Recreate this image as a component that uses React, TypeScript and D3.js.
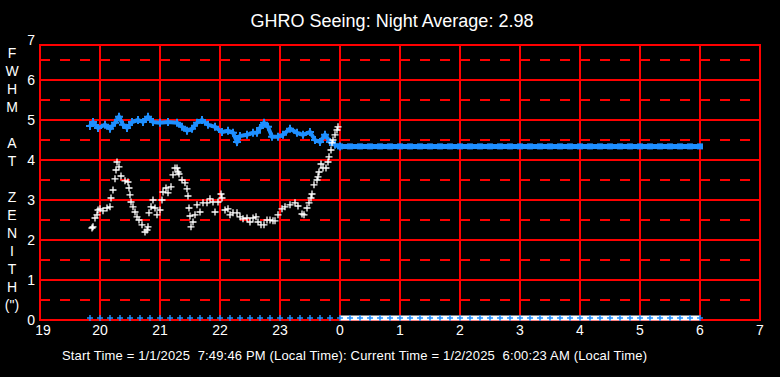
import React from "react";
import * as d3 from "d3";

// minutes after 19:00 local time
const whiteMinutes = [52,53,55,57,58,60,63,67,70,71,73,75,76,77,79,81,85,88,89,90,91,93,95,97,99,102,105,107,108,109,111,113,115,117,120,122,123,126,128,131,133,135,137,138,139,142,145,147,148,149,150,151,153,155,157,160,163,167,170,173,175,178,181,182,185,188,190,193,197,200,203,207,210,213,216,218,221,224,227,230,233,235,238,242,245,250,255,258,262,264,267,269,271,272,274,277,278,279,281,283,286,288,289,291,292,293,295,297,298];
const whiteValues = [2.30,2.33,2.55,2.63,2.75,2.78,2.73,2.80,2.83,3.05,3.25,3.53,3.75,3.95,3.83,3.60,3.48,3.45,3.30,3.13,2.95,2.83,2.70,2.58,2.50,2.38,2.20,2.25,2.33,2.68,2.83,3.00,2.80,2.63,2.75,3.00,3.20,3.30,3.18,3.33,3.63,3.80,3.80,3.70,3.65,3.50,3.43,3.28,3.10,2.80,2.60,2.33,2.45,2.63,2.88,2.70,2.93,2.93,3.03,2.95,2.70,2.95,3.15,3.05,2.75,2.78,2.63,2.68,2.68,2.58,2.53,2.55,2.45,2.55,2.58,2.45,2.38,2.38,2.50,2.50,2.48,2.48,2.63,2.78,2.83,2.88,2.93,2.85,2.65,2.63,2.80,2.93,3.05,3.15,3.38,3.50,3.58,3.70,3.90,3.80,3.80,3.95,4.08,4.25,4.43,4.50,4.63,4.75,4.83];

const blueMinutes = [50,53,58,65,70,75,79,83,87,92,98,103,108,113,120,128,137,142,147,152,157,162,168,175,182,188,193,197,200,207,213,217,220,224,228,232,238,243,250,257,263,270,275,280,285,290,295,300];
const blueValues = [4.85,4.95,4.80,4.88,4.78,4.93,5.08,4.88,4.80,4.95,5.00,4.95,5.08,4.95,4.93,4.95,4.93,4.83,4.73,4.78,4.93,5.00,4.88,4.83,4.70,4.73,4.68,4.45,4.60,4.63,4.68,4.68,4.80,4.93,4.83,4.58,4.58,4.63,4.78,4.68,4.63,4.70,4.50,4.45,4.63,4.45,4.38,4.34];

const flatStart = 300;
const flatEnd = 660;
const flatValue = 4.34;
const zeroMarkStart = 50;
const zeroMarkStep = 10;
const zeroBandStart = 300;

const xTickMinutes = [0,60,120,180,240,300,360,420,480,540,600,660,720];
const xTickLabels = ["19","20","21","22","23","0","1","2","3","4","5","6","7"];
const yTicks = [0,1,2,3,4,5,6,7];
const yLabelChars = ["F","W","H","M"," ","A","T"," ","Z","E","N","I","T","H","(\")"];

const title = "GHRO Seeing: Night Average: 2.98";
const footer = "Start Time = 1/1/2025  7:49:46 PM (Local Time): Current Time = 1/2/2025  6:00:23 AM (Local Time)";

const W = 780, H = 377;
const FONT = "'Liberation Sans', Arial, sans-serif";
const RED = "#ff0000";
const BLUE = "#1e8fff";

export default function App() {
  const x = d3.scaleLinear().domain([0, 720]).range([40, 760]);
  const y = d3.scaleLinear().domain([0, 7]).range([320, 40]);
  const top = y(6.875);

  const blueLine = d3.line<number>()
    .x((_, i) => x(blueMinutes[i]))
    .y((v) => y(v))(blueValues) || "";

  const plus = (cx: number, cy: number, a: number) =>
    `M${cx - a},${cy}H${cx + a}M${cx},${cy - a}V${cy + a}`;

  const whitePath = whiteMinutes.map((m, i) => plus(x(m), y(whiteValues[i]), 3.5)).join("");
  const bluePlus = blueMinutes.map((m, i) => plus(x(m), y(blueValues[i]), 4)).join("");
  const zeroMarks = d3.range(zeroMarkStart, flatEnd + 1, zeroMarkStep);
  const zeroPlus = zeroMarks.map((m) => plus(x(m), y(0) - 2, 3)).join("");
  const flatMarks = d3.range(flatStart, flatEnd + 1, zeroMarkStep);

  const halfTicks = [0.5, 1.5, 2.5, 3.5, 4.5, 5.5, 6.5];

  return (
    <svg width={W} height={H} style={{ position: "absolute", left: 0, top: 0, background: "#000", display: "block" }}>
      <rect x={0} y={0} width={W} height={H} fill="#000" />
      {/* grid */}
      {halfTicks.map((t) => (
        <line key={"h" + t} x1={40} x2={760} y1={y(t)} y2={y(t)} stroke={RED} strokeWidth={2} strokeDasharray="10,10" />
      ))}
      {yTicks.filter((t) => t > 0 && t < 7).map((t) => (
        <line key={"s" + t} x1={40} x2={760} y1={y(t)} y2={y(t)} stroke={RED} strokeWidth={2} />
      ))}
      {xTickMinutes.map((m) => (
        <line key={"v" + m} x1={x(m)} x2={x(m)} y1={top} y2={y(0)} stroke={RED} strokeWidth={2} />
      ))}
      <rect x={40} y={top} width={720} height={y(0) - top} fill="none" stroke={RED} strokeWidth={2} />

      {/* zero band */}
      <line x1={x(zeroBandStart)} x2={x(flatEnd)} y1={y(0) - 2} y2={y(0) - 2} stroke="#fff" strokeWidth={5} />
      <path d={zeroPlus} stroke={BLUE} strokeWidth={1.5} fill="none" />

      {/* blue average */}
      <path d={blueLine} stroke={BLUE} strokeWidth={4} fill="none" />
      <path d={bluePlus} stroke={BLUE} strokeWidth={2} fill="none" />
      <line x1={x(flatStart)} x2={x(flatEnd)} y1={y(flatValue)} y2={y(flatValue)} stroke={BLUE} strokeWidth={5} />
      {flatMarks.map((m) => (
        <rect key={"f" + m} x={x(m) - 3} y={y(flatValue) - 3} width={6} height={6} fill={BLUE} />
      ))}

      {/* white measurements */}
      <path d={whitePath} stroke="#fff" strokeWidth={1.3} fill="none" />

      {/* axes labels */}
      {yTicks.map((t) => (
        <text key={"yl" + t} x={35} y={y(t)} dy="0.35em" textAnchor="end" fill="#fff" fontSize={14} fontFamily={FONT}>{t}</text>
      ))}
      {xTickMinutes.map((m, i) => (
        <text key={"xl" + m} x={x(m) + (i === 0 ? 3 : 0)} y={335} textAnchor="middle" fill="#fff" fontSize={14} fontFamily={FONT}>{xTickLabels[i]}</text>
      ))}
      {yLabelChars.map((c, i) => (
        <text key={"c" + i} x={12} y={53 + i * 18} dy="0.35em" textAnchor="middle" fill="#fff" fontSize={14} fontFamily={FONT}>{c}</text>
      ))}
      <text x={392} y={27} textAnchor="middle" fill="#fff" fontSize={18} fontFamily={FONT}>{title}</text>
      <text x={62} y={360} textAnchor="start" fill="#fff" fontSize={13} fontFamily={FONT} textLength={585} lengthAdjust="spacing" style={{ whiteSpace: "pre" }}>{footer}</text>
    </svg>
  );
}
